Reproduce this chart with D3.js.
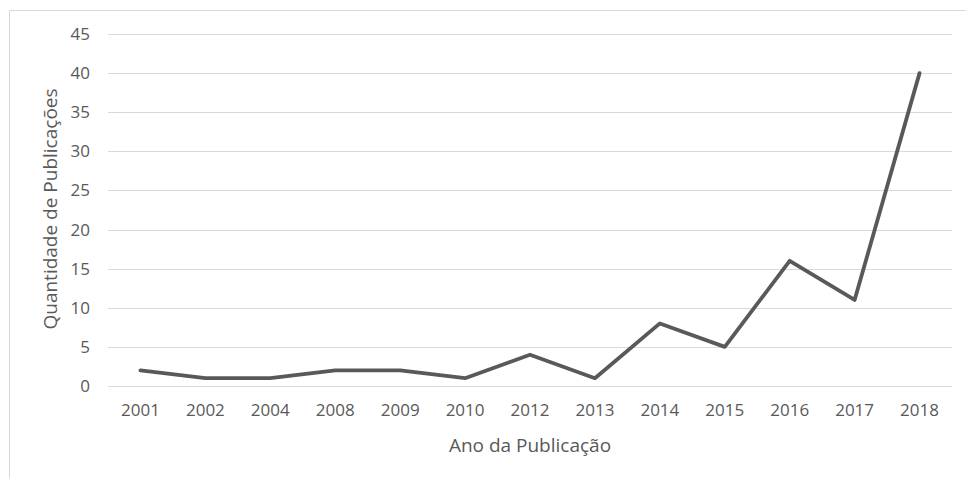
<!DOCTYPE html>
<html>
<head>
<meta charset="utf-8">
<script src="https://cdn.jsdelivr.net/npm/d3@7"></script>
<style>
  html, body { margin: 0; padding: 0; background: #fff; }
  svg { display: block; }
  text { font-family: "Open Sans", sans-serif; fill: #595959; }
</style>
</head>
<body>
<svg id="chart" width="966" height="478"></svg>
<script>
// Publications per year
const years = ["2001", "2002", "2004", "2008", "2009", "2010", "2012", "2013", "2014", "2015", "2016", "2017", "2018"];
const counts = [2, 1, 1, 2, 2, 1, 4, 1, 8, 5, 16, 11, 40];
const yTicks = [0, 5, 10, 15, 20, 25, 30, 35, 40, 45];

const svg = d3.select("#chart");
const W = 966, H = 478;
const plot = { left: 108, right: 952, top: 34, bottom: 386 };

// Chart frame (top and left edges)
svg.append("line").attr("x1", 9.5).attr("x2", W).attr("y1", 10.5).attr("y2", 10.5)
  .attr("stroke", "#d9d9d9").attr("stroke-width", 1);
svg.append("line").attr("x1", 9.5).attr("x2", 9.5).attr("y1", 10.5).attr("y2", H)
  .attr("stroke", "#d9d9d9").attr("stroke-width", 1);

const x = d3.scaleBand().domain(years).range([plot.left, plot.right]);
const y = d3.scaleLinear().domain([0, 45]).range([plot.bottom, plot.top]);

// Horizontal gridlines
svg.append("g").selectAll("line").data(yTicks).join("line")
  .attr("x1", plot.left).attr("x2", plot.right)
  .attr("y1", d => Math.round(y(d)) + 0.5).attr("y2", d => Math.round(y(d)) + 0.5)
  .attr("stroke", "#d9d9d9").attr("stroke-width", 1);

// Y axis labels
const yAxis = svg.append("g").attr("transform", `translate(${plot.left},0)`)
  .call(d3.axisLeft(y).tickValues(yTicks).tickSize(0).tickPadding(18));
yAxis.select(".domain").remove();
yAxis.selectAll("text").style("font-family", "'Open Sans', sans-serif")
  .style("font-size", "17px").attr("fill", "#595959");

// X axis labels
const xAxis = svg.append("g").attr("transform", `translate(0,${plot.bottom})`)
  .call(d3.axisBottom(x).tickSize(0).tickPadding(18));
xAxis.select(".domain").remove();
xAxis.selectAll("text").style("font-family", "'Open Sans', sans-serif")
  .style("font-size", "17px").attr("fill", "#595959");

// Series line
const line = d3.line()
  .x((d, i) => x(years[i]) + x.bandwidth() / 2)
  .y(d => y(d));
svg.append("path").datum(counts)
  .attr("d", line)
  .attr("fill", "none")
  .attr("stroke", "#595959")
  .attr("stroke-width", 3.8)
  .attr("stroke-linejoin", "round")
  .attr("stroke-linecap", "round");

// Axis titles
svg.append("text")
  .attr("x", 530).attr("y", 452)
  .attr("text-anchor", "middle").style("font-size", "19px")
  .text("Ano da Publicação");
svg.append("text")
  .attr("transform", `translate(57,209) rotate(-90)`)
  .attr("text-anchor", "middle").style("font-size", "19px")
  .text("Quantidade de Publicações");
</script>
</body>
</html>
